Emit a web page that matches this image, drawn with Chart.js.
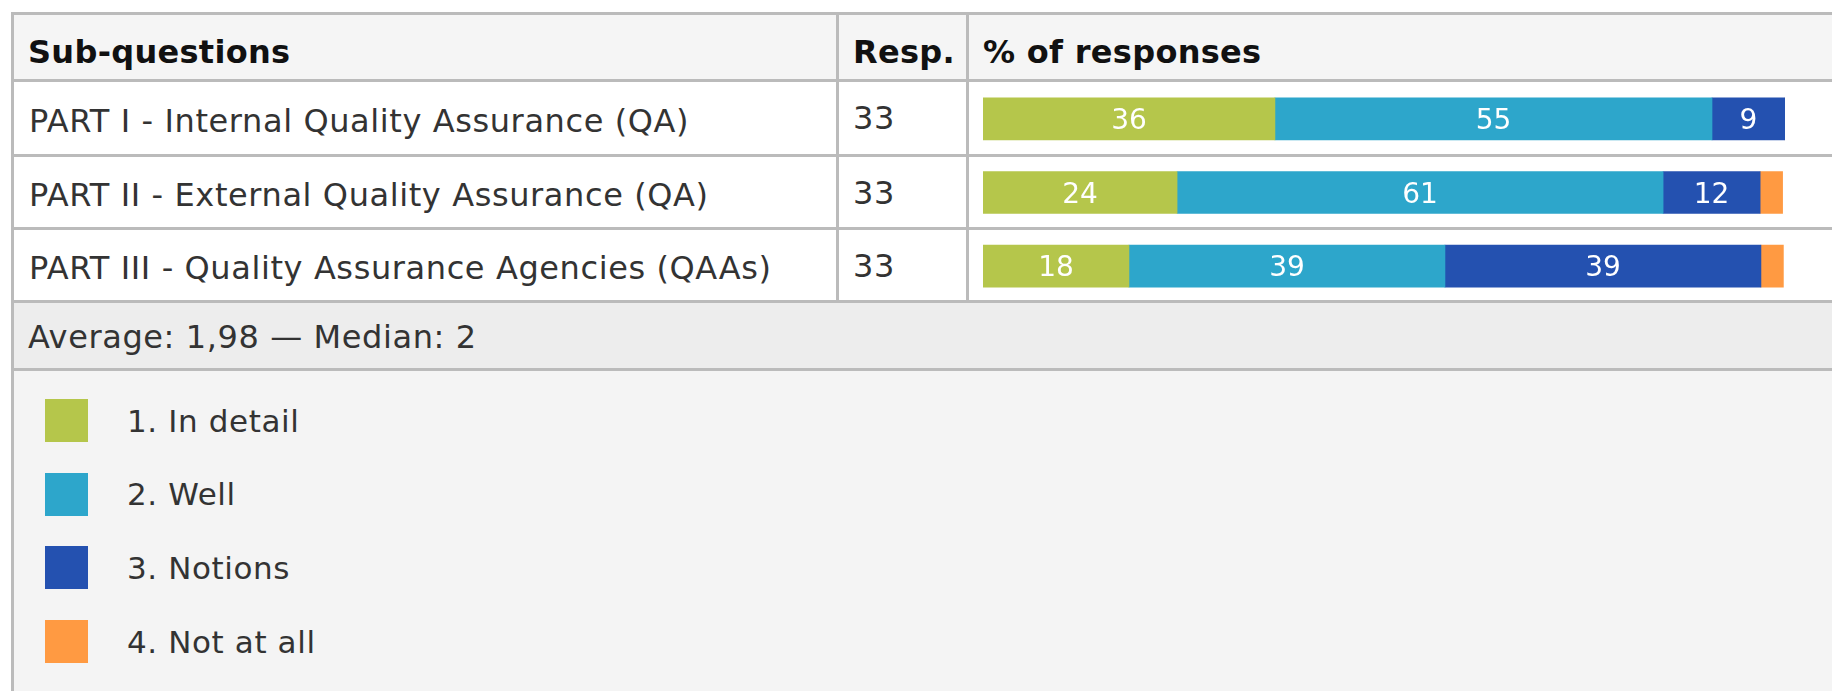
<!DOCTYPE html>
<html>
<head>
<meta charset="utf-8">
<title>Sub-questions</title>
<script src="https://cdn.jsdelivr.net/npm/chart.js@4.4.1/dist/chart.umd.min.js"></script>
<style>
  html, body { margin: 0; padding: 0; background: #fff; width: 1832px; height: 691px; overflow: hidden; }
  body { position: relative; font-family: "DejaVu Sans", Verdana, sans-serif; color: #333; }
  .grid {
    position: absolute; left: 11px; top: 12px; width: 1960px;
    display: grid; background: #bbbbbb; padding: 3px; gap: 3px;
    grid-template-columns: 822px 127px 1000px;
    grid-template-rows: 64px 72px 70px 70px 65px 330px;
  }
  .cell { background: #fff; font-size: 32px; display: flex; align-items: center; padding-left: 15px; padding-top: 5px; white-space: nowrap; letter-spacing: 0.6px; }
  .head { background: #f5f5f5; font-weight: bold; color: #111; padding-left: 14px; padding-top: 9px; letter-spacing: 0.3px; }
  .resp { align-items: flex-start; padding-top: 17px; padding-left: 14px; }
  .stats { grid-column: 1 / -1; background: #ededed; padding-left: 14px; padding-top: 3px; }
  .legend { grid-column: 1 / -1; background: #f4f4f4; display: block; padding: 0; position: relative; }
  .item { position: absolute; left: 31px; height: 43px; display: flex; align-items: center; font-size: 31px; }
  .swatch { width: 43px; height: 43px; margin-right: 39px; }
  #bars { position: absolute; left: 983px; top: 82px; z-index: 2; }
</style>
</head>
<body>
<div class="grid" id="grid"></div>
<canvas id="bars" width="802" height="221"></canvas>
<script>
// values (percent of responses)
const questions = [
  'PART I - Internal Quality Assurance (QA)',
  'PART II - External Quality Assurance (QA)',
  'PART III - Quality Assurance Agencies (QAAs)'
];
const responses = [33, 33, 33];
const answers = ['1. In detail', '2. Well', '3. Notions', '4. Not at all'];
const inDetail = [36.4, 24.2, 18.2];
const well = [54.5, 60.6, 39.4];
const notions = [9.1, 12.1, 39.4];
const notAtAll = [0, 2.8, 2.8];
const average = '1,98';
const median = '2';
const headers = ['Sub-questions', 'Resp.', '% of responses'];

const colors = ['#b5c64b', '#2da6cb', '#2451b0', '#ff9a42'];
const series = [inDetail, well, notions, notAtAll];

// table part
const grid = document.getElementById('grid');
function cell(cls, text) {
  const d = document.createElement('div');
  d.className = 'cell ' + cls;
  d.textContent = text;
  grid.appendChild(d);
  return d;
}
headers.forEach(h => cell('head', h));
questions.forEach((q, i) => {
  cell('', q);
  cell('resp', String(responses[i]));
  cell('', '');
});
cell('stats', 'Average: ' + average + ' \u2014 Median: ' + median);
const legend = cell('legend', '');
answers.forEach((a, i) => {
  const item = document.createElement('div');
  item.className = 'item';
  item.style.top = (28 + i * 73.7) + 'px';
  const sw = document.createElement('div');
  sw.className = 'swatch';
  sw.style.background = colors[i];
  item.appendChild(sw);
  item.appendChild(document.createTextNode(a));
  legend.appendChild(item);
});

// white numbers in the middle of each segment
const barLabels = {
  id: 'barLabels',
  afterDatasetsDraw(chart) {
    const ctx = chart.ctx;
    ctx.save();
    ctx.fillStyle = '#fff';
    ctx.font = '28px "DejaVu Sans", Verdana, sans-serif';
    ctx.textAlign = 'center';
    ctx.textBaseline = 'middle';
    chart.data.datasets.forEach((ds, i) => {
      chart.getDatasetMeta(i).data.forEach((bar, j) => {
        const v = ds.data[j];
        if (v < 5) return;
        const x = (bar.x + bar.base) / 2;
        ctx.fillText(Math.round(v), x, bar.y + 3);
      });
    });
    ctx.restore();
  }
};

new Chart(document.getElementById('bars'), {
  type: 'bar',
  data: {
    labels: questions,
    datasets: series.map((s, i) => ({
      label: answers[i],
      data: s,
      backgroundColor: colors[i],
      borderWidth: 0,
      barThickness: 42
    }))
  },
  options: {
    indexAxis: 'y',
    responsive: false,
    animation: false,
    layout: { padding: 0 },
    scales: {
      x: { stacked: true, min: 0, max: 100, display: false },
      y: { stacked: true, display: false }
    },
    plugins: {
      legend: { display: false },
      tooltip: { enabled: false }
    }
  },
  plugins: [barLabels]
});
</script>
</body>
</html>
